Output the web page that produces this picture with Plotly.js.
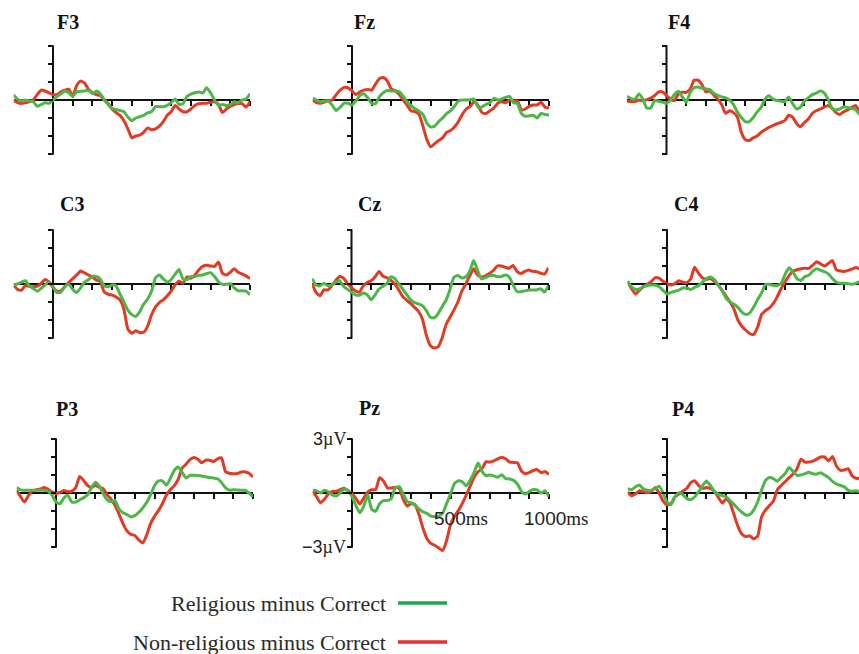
<!DOCTYPE html>
<html><head><meta charset="utf-8">
<script src="https://cdn.plot.ly/plotly-3.0.1.min.js"></script>
<style>html,body{margin:0;padding:0;background:#fff}#chart{width:859px;height:654px}</style>
</head><body><div id="chart"></div>
<script>
// ---------- DATA ----------
const times = [
-200,-180,-160,-140,-120,-100,-80,-60,-40,-20,
0,20,40,60,80,100,120,140,160,180,
200,220,240,260,280,300,320,340,360,380,
400,420,440,460,480,500,520,540,560,580,
600,620,640,660,680,700,720,740,760,780,
800,820,840,860,880,900,920,940,960,980,
1000];

const electrodes = ['F3','Fz','F4','C3','Cz','C4','P3','Pz','P4'];
const seriesNames = ['Religious minus Correct','Non-religious minus Correct'];
const yTickVals = [-3,-2,-1,0,1,2,3];
const xTickVals = [100,200,300,400,500,600,700,800,900,1000];
const xTickLabels = ['500','1000'];
const xTickLabelVals = [500,1000];
const yTickLabels = ['3','\u22123'];
const yTickLabelVals = [3,-3];

const rel_F3 = [
0.28,0.05,-0.05,0.0,-0.05,-0.1,-0.35,-0.25,-0.15,-0.18,
0.0,0.2,0.35,0.5,0.4,0.2,0.45,0.48,0.5,0.55,
0.35,0.5,0.35,0.02,-0.25,-0.48,-0.52,-0.58,-0.65,-0.95,
-1.15,-1.0,-0.93,-0.85,-0.72,-0.65,-0.37,-0.37,-0.37,-0.3,
-0.15,0.05,-0.25,-0.2,0.2,0.33,0.4,0.45,0.38,0.68,
0.4,0.0,-0.3,-0.25,-0.3,-0.25,-0.1,-0.15,0.0,0.05,
0.35];
const non_F3 = [
0,-0.15,-0.2,-0.15,-0.1,0.0,0.3,0.55,0.5,0.4,
0.3,0.3,0.45,0.55,0.6,0.2,0.8,1.05,0.95,0.6,
0.4,0.3,0.25,0.0,-0.2,-0.5,-0.7,-0.85,-1.15,-1.6,
-2.1,-2.0,-1.95,-1.8,-1.55,-1.65,-1.6,-1.45,-1.2,-0.85,
-0.65,-0.3,-0.5,-0.65,-0.65,-0.5,-0.3,-0.2,-0.18,-0.18,
-0.12,-0.1,-0.25,-0.7,-0.5,-0.35,-0.25,-0.2,-0.2,-0.4,
-0.1];
const rel_Fz = [
0.1,0.0,-0.1,-0.05,-0.05,-0.3,-0.58,-0.4,-0.18,-0.18,
-0.28,-0.05,0.25,0.35,0.12,-0.2,-0.2,0.2,0.42,0.53,
0.5,0.5,0.45,0.2,-0.1,-0.32,-0.48,-0.62,-0.8,-1.28,
-1.5,-1.45,-1.2,-1.0,-0.76,-0.6,-0.35,-0.05,0.0,0.0,
0.02,0.05,-0.4,-0.38,-0.25,-0.15,0.1,0.0,0.05,0.15,
0.2,-0.15,-0.2,-0.75,-0.9,-0.88,-0.85,-1.0,-0.75,-0.8,
-0.83];
const non_Fz = [
0.0,-0.15,-0.18,-0.12,-0.05,0.0,0.3,0.55,0.7,0.68,
0.5,0.3,0.45,0.55,0.58,0.55,0.9,1.2,1.25,1.05,
0.6,0.52,0.3,0.0,-0.3,-0.6,-0.65,-0.8,-1.45,-2.2,
-2.6,-2.42,-2.25,-2.1,-1.8,-1.7,-1.5,-1.2,-0.8,-0.5,
-0.35,-0.1,-0.3,-0.7,-0.75,-0.6,-0.45,-0.18,-0.1,-0.15,
0.0,-0.05,-0.05,-0.55,-0.5,-0.35,-0.28,-0.28,-0.12,-0.4,
-0.45];
const rel_F4 = [
0.2,0.08,0.05,0.33,0.05,-0.45,-0.45,-0.02,-0.07,-0.12,
-0.18,0.0,0.3,0.48,0.18,-0.12,0.42,0.68,0.72,0.65,
0.62,0.58,0.37,0.26,0.17,0.12,0.0,-0.25,-0.67,-0.97,
-1.2,-1.2,-0.97,-0.66,-0.42,0.05,0.24,0.05,-0.02,-0.05,
-0.1,0.17,-0.2,-0.5,-0.4,-0.05,0.12,0.3,0.38,0.5,
0.4,0.05,-0.45,-0.55,-0.5,-0.37,-0.42,-0.47,-0.53,-0.8,
-0.75];
const non_F4 = [
-0.05,-0.08,-0.08,0.0,-0.04,0.02,0.1,0.25,0.45,0.45,
0.25,0.05,-0.03,0.33,0.43,0.42,0.6,1.1,1.1,0.85,
0.45,0.5,0.28,0.05,-0.25,-0.74,-0.6,-0.7,-0.95,-1.8,
-2.2,-2.25,-2.1,-2.0,-1.8,-1.65,-1.52,-1.42,-1.32,-1.25,
-1.15,-0.85,-0.95,-1.3,-1.48,-1.25,-1.05,-0.75,-0.6,-0.5,
-0.4,-0.3,-0.45,-0.7,-0.8,-0.65,-0.55,-0.42,-0.3,-0.65,
-0.55];
const rel_C3 = [
-0.05,0.0,0.1,0.18,-0.1,-0.25,-0.4,-0.25,-0.05,0.1,
-0.15,-0.48,-0.45,-0.15,-0.02,-0.3,-0.47,-0.22,0.1,0.24,
0.42,0.42,0.28,-0.1,-0.15,-0.05,-0.1,-0.56,-1.0,-1.45,
-1.7,-1.8,-1.55,-1.12,-0.85,-0.4,0.34,0.5,0.28,0.1,
0.25,0.55,0.8,0.28,0.25,0.41,0.41,0.48,0.5,0.58,
0.63,0.42,0.12,-0.02,-0.02,0.02,-0.22,-0.38,-0.38,-0.4,
-0.6];
const non_C3 = [
-0.05,-0.3,-0.35,-0.08,-0.14,-0.15,-0.12,0.04,0.25,0.1,
-0.2,-0.4,-0.38,-0.15,0.08,0.3,0.5,0.72,0.62,0.5,
0.38,0.22,0.15,-0.45,-0.57,-0.62,-0.72,-0.88,-1.4,-2.5,
-2.74,-2.6,-2.7,-2.68,-2.35,-1.72,-1.28,-1.03,-0.88,-0.66,
-0.4,-0.05,0.15,0.05,0.4,0.32,0.5,0.78,0.98,1.04,
1.0,0.98,1.22,0.6,0.5,0.65,0.85,0.65,0.55,0.45,
0.3];
const rel_Cz = [
0.3,-0.05,-0.1,0.04,-0.1,-0.05,0.1,0.18,-0.13,-0.3,
-0.45,-0.6,-0.62,-0.5,-0.6,-0.88,-0.6,-0.28,-0.12,0.03,
0.4,0.3,0.0,-0.28,-0.58,-0.88,-1.03,-1.1,-1.2,-1.48,
-1.85,-1.88,-1.64,-1.26,-0.9,-0.3,0.38,0.47,0.33,0.4,
0.7,1.3,0.75,0.28,0.35,0.45,0.48,0.41,0.41,0.5,
0.4,-0.05,-0.42,-0.43,-0.38,-0.33,-0.33,-0.33,-0.26,-0.45,
-0.1];
const non_Cz = [
0.04,-0.47,-0.65,-0.33,-0.33,-0.1,0.2,0.42,0.32,0.02,
-0.2,-0.38,-0.45,-0.1,0.08,0.18,0.4,0.7,0.43,0.35,
0.2,0.0,-0.33,-0.7,-0.9,-1.08,-1.3,-1.52,-1.95,-2.85,
-3.42,-3.55,-3.48,-3.0,-2.25,-1.85,-1.45,-1.0,-0.4,0.0,
0.45,0.85,0.5,0.38,0.45,0.58,0.75,1.0,1.0,0.93,
0.87,1.03,0.7,0.58,0.7,0.78,0.7,0.68,0.6,0.55,
0.9];
const rel_C4 = [
0.17,-0.15,-0.3,-0.28,-0.15,-0.08,-0.06,-0.06,-0.15,-0.35,
-0.56,-0.47,-0.4,-0.34,-0.22,-0.22,-0.3,-0.19,-0.09,0.1,
0.31,0.39,0.25,-0.05,-0.38,-0.78,-1.0,-1.12,-1.3,-1.56,
-1.7,-1.6,-1.28,-0.86,-0.5,-0.02,-0.02,-0.08,-0.08,0.04,
0.55,0.9,0.65,0.3,0.2,0.41,0.48,0.72,0.85,0.76,
0.68,0.55,0.3,0.1,0.04,0.04,0.02,-0.02,0.05,0.13,
0.1];
const non_C4 = [
0.13,-0.25,-0.55,-0.35,-0.15,-0.02,0.13,0.35,0.32,0.15,
0.0,-0.05,0.02,0.18,0.1,0.08,0.28,0.93,0.6,0.34,
0.26,0.3,0.15,-0.07,-0.35,-0.68,-1.0,-1.4,-2.0,-2.35,
-2.57,-2.75,-2.8,-2.4,-1.7,-1.48,-1.33,-1.08,-0.7,-0.24,
0.12,0.47,0.72,0.79,0.85,0.87,0.87,1.05,1.23,1.12,
1.0,1.15,1.3,0.78,0.72,0.7,0.76,0.84,0.92,0.82,
0.8];
const rel_P3 = [
0.3,0.17,0.15,0.15,0.15,0.15,0.15,0.15,0.1,-0.12,
-0.5,-0.6,-0.28,-0.13,-0.5,-0.5,-0.38,-0.27,-0.1,0.3,
0.6,0.38,-0.05,-0.38,-0.49,-0.42,-0.9,-1.1,-1.2,-1.33,
-1.26,-1.08,-0.83,-0.53,-0.1,0.4,0.67,0.68,0.43,0.8,
1.25,1.45,1.15,0.83,0.98,0.98,0.97,0.95,0.9,0.86,
0.83,0.79,0.58,0.3,0.16,0.18,0.17,0.15,0.15,0.0,
-0.2];
const non_P3 = [
0.15,-0.2,-0.5,-0.15,0.12,0.18,0.22,0.3,0.2,0.05,
-0.04,0.03,0.14,0.08,0.1,0.3,0.92,0.7,0.42,0.3,
0.42,0.32,0.24,-0.1,-0.35,-0.7,-1.17,-1.7,-2.1,-2.3,
-2.36,-2.6,-2.78,-2.35,-1.7,-1.3,-0.98,-0.6,-0.13,0.18,
0.4,0.75,1.38,1.6,1.85,1.97,1.88,1.68,1.82,1.82,
1.75,1.9,1.95,1.2,1.1,1.07,1.08,1.17,1.17,1.1,
0.89];
const rel_Pz = [
0.15,0.12,0.0,0.15,0.07,-0.1,-0.17,0.0,0.22,0.12,
-0.2,-0.7,-1.1,-0.72,-0.1,-0.9,-1.02,-0.6,-0.42,-0.42,
-0.3,0.3,0.35,-0.05,-0.48,-0.55,-0.68,-0.88,-1.05,-1.13,
-1.28,-1.31,-1.28,-1.12,-0.6,-0.06,0.52,0.68,0.62,0.4,
0.72,1.15,1.66,1.2,0.97,1.0,0.95,0.88,1.02,0.8,
0.78,0.7,0.5,0.09,-0.06,0.08,0.19,0.17,0.0,0.12,
-0.19];
const non_Pz = [
0.1,-0.2,-0.55,-0.35,-0.05,0.09,0.09,0.18,0.26,0.12,
-0.05,-0.3,-0.62,-0.28,0.05,0.18,0.19,0.85,0.66,0.28,
0.28,0.32,0.25,-0.35,-0.72,-0.6,-0.65,-1.2,-1.95,-2.53,
-2.8,-2.9,-3.05,-3.2,-2.65,-1.75,-1.3,-0.98,-0.58,-0.12,
0.38,0.88,1.18,1.35,1.73,1.72,1.78,1.9,1.97,1.9,
1.72,1.7,1.68,1.22,1.07,1.14,1.25,1.3,1.13,1.2,
1.03];
const rel_P4 = [
0.24,0.18,0.35,0.45,0.23,0.15,0.15,0.25,0.38,0.0,
-0.5,-0.65,-0.22,0.02,-0.1,-0.3,-0.38,-0.22,0.06,0.4,
0.67,0.42,0.1,-0.07,-0.14,-0.21,-0.42,-0.63,-0.86,-1.07,
-1.22,-1.2,-0.95,-0.5,0.15,0.7,0.86,0.8,0.65,0.88,
1.08,1.42,1.2,0.98,1.0,1.07,1.15,1.07,1.05,1.13,
1.0,0.85,0.65,0.5,0.42,0.35,0.15,0.1,0.12,0.06,
0.05];
const non_P4 = [
0.06,-0.15,-0.05,0.13,0.06,0.02,0.08,0.3,0.0,-0.45,
-0.65,-0.6,-0.22,-0.06,0.1,0.25,0.56,0.68,0.42,0.26,
0.3,0.25,0.1,-0.23,-0.55,-0.33,-0.55,-1.2,-1.85,-2.28,
-2.42,-2.38,-2.55,-2.4,-1.33,-0.95,-0.7,-0.45,0.18,0.42,
0.63,0.85,1.05,1.35,1.88,1.72,1.72,1.77,1.88,2.0,
2.0,1.78,2.03,1.5,1.26,1.28,1.35,0.95,0.82,0.8,
0.78];

const religious = [rel_F3, rel_Fz, rel_F4, rel_C3, rel_Cz, rel_C4, rel_P3, rel_Pz, rel_P4];
const nonreligious = [non_F3, non_Fz, non_F4, non_C3, non_Cz, non_C4, non_P3, non_Pz, non_P4];

// ---------- LAYOUT GEOMETRY (pixels) ----------
const W = 859, H = 654;
const sx = 0.197, sy = 18;
const panelX0 = [53, 352, 666.5, 53, 351.5, 667, 56, 352, 667];
const panelZero = [100, 100, 100, 284, 284, 284, 493, 493, 493];
const titlePos = [[55,22],[352,22],[666,22],[58,204],[356,204],[672,204],[54,409],[357,408],[670,409]];
const GREEN = '#4cb648', RED = '#e23b25';
const GREEN_LEG = '#1fa64e', RED_LEG = '#e8302c';

const data = [];
const layout = {
  width: W, height: H,
  margin: {l:0, r:0, t:0, b:0},
  paper_bgcolor: '#fff', plot_bgcolor: 'rgba(0,0,0,0)',
  showlegend: false,
  annotations: [], shapes: []
};

electrodes.forEach((name, i) => {
  const n = i + 1;
  const sfx = n === 1 ? '' : String(n);
  const x0 = panelX0[i], z = panelZero[i];
  const left = x0 - 200 * sx;
  const right = Math.min(x0 + 1000 * sx, W);
  const xmax = (right - x0) / sx;
  layout['xaxis' + sfx] = {
    domain: [left / W, right / W], range: [-200, xmax],
    anchor: 'free', position: 1 - z / H,
    showline: true, linecolor: '#111', linewidth: 2,
    ticks: 'outside', ticklen: 5, tickwidth: 2, tickcolor: '#111',
    tickmode: 'array', tickvals: xTickVals, showticklabels: false,
    showgrid: false, zeroline: false, fixedrange: true, layer: 'below traces'
  };
  layout['yaxis' + sfx] = {
    domain: [1 - (z + 4 * sy) / H, 1 - (z - 4 * sy) / H], range: [-4, 4],
    anchor: 'free', position: x0 / W,
    showline: false,
    ticks: 'outside', ticklen: 5, tickwidth: 2, tickcolor: '#111',
    tickmode: 'array', tickvals: yTickVals, showticklabels: false,
    showgrid: false, zeroline: false, fixedrange: true
  };
  layout.shapes.push({
    type: 'line', xref: 'x' + sfx, yref: 'y' + sfx,
    x0: 0, x1: 0, y0: -3.04, y1: 3.04, layer: 'below',
    line: {color: '#111', width: 2}
  });
  data.push({
    x: times, y: nonreligious[i], xaxis: 'x' + sfx, yaxis: 'y' + sfx,
    type: 'scatter', mode: 'lines', name: seriesNames[1],
    line: {color: RED, width: 3, shape: 'spline', smoothing: 0.5}, hoverinfo: 'skip'
  });
  data.push({
    x: times, y: religious[i], xaxis: 'x' + sfx, yaxis: 'y' + sfx,
    type: 'scatter', mode: 'lines', name: seriesNames[0],
    line: {color: GREEN, width: 3, shape: 'spline', smoothing: 0.5}, hoverinfo: 'skip'
  });
  layout.annotations.push({
    xref: 'paper', yref: 'paper', x: titlePos[i][0] / W, y: 1 - titlePos[i][1] / H,
    xanchor: 'left', yanchor: 'middle', showarrow: false,
    text: '<b>' + name + '</b>',
    font: {family: 'Liberation Serif, Times New Roman, serif', size: 20, color: '#111'}
  });
});

// Pz axis labels
const pz = electrodes.indexOf('Pz') + 1;
const SERIF = 'Liberation Serif, Times New Roman, serif';
yTickLabelVals.forEach((v, k) => {
  layout.annotations.push({
    xref: 'x' + pz, yref: 'y' + pz, x: 0, y: v, xanchor: 'right', yanchor: 'middle',
    xshift: -4, showarrow: false,
    text: '<span style="font-family:Liberation Sans">' + yTickLabels[k] + '</span>\u00b5V',
    font: {family: SERIF, size: 18, color: '#222'}
  });
});
const xShifts = [-19, -27];
xTickLabelVals.forEach((v, k) => {
  layout.annotations.push({
    xref: 'x' + pz, yref: 'y' + pz, x: v, y: 0, xanchor: 'left', yanchor: 'middle',
    xshift: xShifts[k], yshift: -25, showarrow: false,
    text: '<span style="font-family:Liberation Sans">' + xTickLabels[k] + '</span>ms',
    font: {family: SERIF, size: 19, color: '#222'}
  });
});

// Legend
const legY = [603, 642];
const legCol = [GREEN_LEG, RED_LEG];
seriesNames.forEach((s, k) => {
  layout.annotations.push({
    xref: 'paper', yref: 'paper', x: 388 / W, y: 1 - legY[k] / H,
    xanchor: 'right', yanchor: 'middle', showarrow: false, text: s,
    font: {family: SERIF, size: 22, color: '#2a2a2a'}
  });
  layout.shapes.push({
    type: 'line', xref: 'paper', yref: 'paper',
    x0: 398 / W, x1: 447 / W, y0: 1 - legY[k] / H, y1: 1 - legY[k] / H,
    line: {color: legCol[k], width: 3.5}
  });
});

Plotly.newPlot('chart', data, layout, {staticPlot: true, displayModeBar: false});
</script>
</body></html>
